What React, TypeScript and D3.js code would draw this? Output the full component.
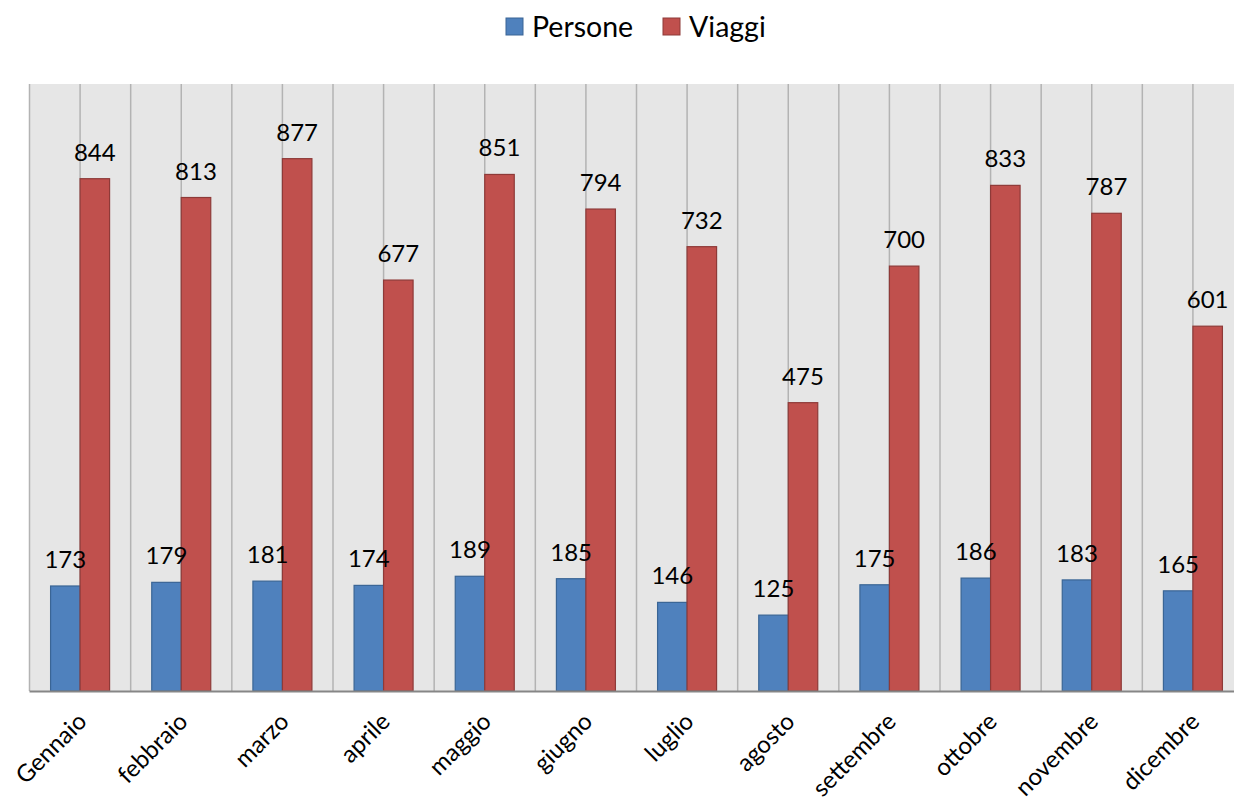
import React, { useRef, useEffect } from "react";
import { select, scaleBand, scaleLinear } from "d3";

const months = ["Gennaio", "febbraio", "marzo", "aprile", "maggio", "giugno", "luglio", "agosto", "settembre", "ottobre", "novembre", "dicembre"];
const persone = [173, 179, 181, 174, 189, 185, 146, 125, 175, 186, 183, 165];
const viaggi = [844, 813, 877, 677, 851, 794, 732, 475, 700, 833, 787, 601];
const seriesNames = ["Persone", "Viaggi"];
const fills = ["#4f81bd", "#c0504d"];
const strokes = ["#3a6595", "#8e3a38"];

const W = 1234;
const H = 805;
const left = 29.5;
const right = 1243.5;
const top = 84;
const bottom = 691;
const font = "Lato, 'Open Sans', sans-serif";

const App = () => {
  const svgRef = useRef<SVGSVGElement>(null);

  useEffect(() => {
    const svg = select(svgRef.current);
    svg.selectAll("*").remove();

    const x = scaleBand().domain(months).range([left, right]).padding(0);
    const step = x.step();
    const x1 = scaleBand().domain(seriesNames).range([step / 2 - 29.5, step / 2 + 29.5]).padding(0);
    const y = scaleLinear().domain([0, 1000]).range([bottom, top]);

    // plot background
    svg.append("rect")
      .attr("x", left).attr("y", top)
      .attr("width", right - left).attr("height", bottom - top)
      .attr("fill", "#e6e6e6");

    // vertical gridlines at boundaries and centers
    const gridXs: number[] = [];
    months.forEach(m => {
      gridXs.push(x(m)!);
      gridXs.push(x(m)! + step / 2);
    });
    svg.selectAll(".grid")
      .data(gridXs)
      .join("line")
      .attr("class", "grid")
      .attr("x1", d => d).attr("x2", d => d)
      .attr("y1", top).attr("y2", bottom)
      .attr("stroke", "#b3b3b3")
      .attr("stroke-width", 1.5);

    const data = [persone, viaggi];
    // bars first
    data.forEach((vals, si) => {
      svg.append("g")
        .selectAll("rect")
        .data(vals)
        .join("rect")
        .attr("x", (d, i) => x(months[i])! + x1(seriesNames[si])!)
        .attr("y", d => y(d))
        .attr("width", x1.bandwidth())
        .attr("height", d => bottom - y(d))
        .attr("fill", fills[si])
        .attr("stroke", strokes[si])
        .attr("stroke-width", 1.2);
    });
    // then value labels on top
    data.forEach((vals, si) => {
      svg.append("g")
        .selectAll("text")
        .data(vals)
        .join("text")
        .attr("x", (d, i) => x(months[i])! + x1(seriesNames[si])! + x1.bandwidth() / 2)
        .attr("y", d => y(d) - 18)
        .attr("text-anchor", "middle")
        .attr("font-family", font)
        .attr("font-size", 24)
        .attr("fill", "#000")
        .text(d => d);
    });

    // axis line
    svg.append("line")
      .attr("x1", left).attr("x2", right)
      .attr("y1", bottom + 0.5).attr("y2", bottom + 0.5)
      .attr("stroke", "#868686")
      .attr("stroke-width", 2);

    // category labels
    svg.selectAll(".xlab")
      .data(months)
      .join("text")
      .attr("class", "xlab")
      .attr("transform", d => `translate(${x(d)! + step / 2 + 8},${bottom + 32}) rotate(-45)`)
      .attr("text-anchor", "end")
      .attr("font-family", font)
      .attr("font-size", 24)
      .attr("fill", "#000")
      .text(d => d);

    // legend
    const legend = svg.append("g");
    const items = [
      { name: seriesNames[0], x: 506 },
      { name: seriesNames[1], x: 663 },
    ];
    items.forEach((it, i) => {
      legend.append("rect")
        .attr("x", it.x).attr("y", 18)
        .attr("width", 17).attr("height", 17)
        .attr("fill", fills[i])
        .attr("stroke", strokes[i])
        .attr("stroke-width", 1);
      legend.append("text")
        .attr("x", it.x + 26).attr("y", 37)
        .attr("font-family", font)
        .attr("font-size", 28.5)
        .attr("fill", "#000")
        .text(it.name);
    });
  }, []);

  return (
    <svg
      ref={svgRef}
      width={W}
      height={H}
      style={{ position: "absolute", left: 0, top: 0, background: "#fff", overflow: "hidden" }}
    />
  );
};

export default App;
